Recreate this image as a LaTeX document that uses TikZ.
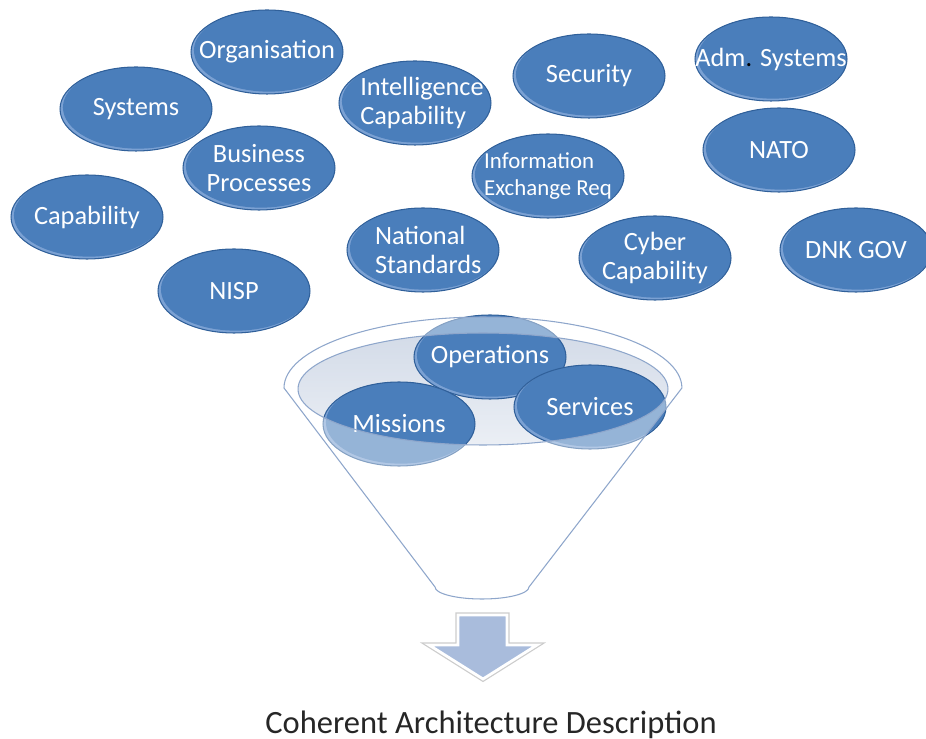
\documentclass[tikz,border=0pt]{standalone}
\usepackage{fontspec}
\setmainfont{Carlito}
\usetikzlibrary{shapes.geometric,positioning}

\definecolor{ovalblue}{HTML}{4A7EBB}
\definecolor{ovalrim}{HTML}{30609A}
\definecolor{ovallight}{HTML}{7BA1D3}
\definecolor{funnelline}{HTML}{8EA6CB}
\definecolor{funneltop}{HTML}{D3DBE8}
\definecolor{funnelbot}{HTML}{EBEFF5}
\definecolor{arrowblue}{HTML}{A9BCDC}

\tikzset{
	oval/.style={ellipse, minimum width=3.04cm, minimum height=1.68cm,
		inner xsep=-30pt, inner ysep=-10pt, fill=ovalblue, draw=ovalrim, line width=0.6pt,
		text=white, align=center, font=\fontsize{15}{17}\selectfont,
		path picture={
			\fill[ovallight] (path picture bounding box.south west) rectangle (path picture bounding box.north east);
			\fill[ovalblue] ([shift={(1.1pt,0.9pt)}]path picture bounding box.center) ellipse (1.5cm and 0.825cm);
		}},
	small/.style={font=\fontsize{13}{15}\selectfont},
	rim/.style={draw=funnelline, line width=0.6pt},
}

\begin{document}
\begin{tikzpicture}[x=0.02cm, y=-0.02cm]
			\useasboundingbox (0,0) rectangle (926,739);

			\node (1) [oval] at (267,52) {Organisation};
			\node (2) [oval] at (136,109) {Systems};
			\node (3) [oval] at (259,168) {Business\\Processes};
			\node (4) [oval] at (87,217) {Capability};
			\node (5) [oval] at (234,291) {NISP};
			\node (6) [oval, align=left] at (415,103) {\hspace*{8pt}Intelligence\\\hspace*{8pt}Capability};
			\node (7) [oval, align=left] at (423,250) {\hspace*{6pt}National\\\hspace*{6pt}Standards};
			\node (8) [oval] at (589,76) {Security};
			\node (9) [oval, small, align=left] at (548,176) {Information\\Exchange Req};
			\node (10) [oval] at (655,258) {Cyber\\Capability};
			\node (11) [oval] at (771,59) {Adm\textcolor{black}{.} Systems};
			\node (12) [oval] at (779,150) {NATO};
			\node (13) [oval] at (856,250) {DNK GOV};

			\shade[top color=funneltop, bottom color=funnelbot] (483,389) ellipse (3.7cm and 1.12cm);

			\node (14) [oval] at (490,357) {Operations};
			\node (15) [oval] at (399,424) {Missions};
			\node (16) [oval] at (590,407) {Services};

			\fill[white, fill opacity=0.42, even odd rule] (284,388) arc[start angle=180, end angle=0, x radius=3.98cm, y radius=1.42cm]
				-- (529,587) arc[start angle=0, end angle=-180, x radius=0.94cm, y radius=0.24cm] -- cycle
				(483,389) ellipse (3.7cm and 1.12cm);
			\draw[rim] (284,388) arc[start angle=180, end angle=0, x radius=3.98cm, y radius=1.42cm]
				-- (529,587) arc[start angle=0, end angle=-180, x radius=0.94cm, y radius=0.24cm] -- cycle;
			\draw[rim] (483,389) ellipse (3.7cm and 1.12cm);

			\draw[black!20, line width=3pt, line join=miter] (458,615) -- (507,615) -- (507,645) -- (537,645) -- (483,679) -- (429,645) -- (458,645) -- cycle;
			\draw[fill=arrowblue, draw=white, line width=1.6pt, line join=miter] (458,615) -- (507,615) -- (507,645) -- (537,645) -- (483,679) -- (429,645) -- (458,645) -- cycle;

			\node (17) [anchor=base, text=black!85, font=\fontsize{18.5}{22}\selectfont] at (491,733) {Coherent Architecture Description};
		\end{tikzpicture}
\end{document}
